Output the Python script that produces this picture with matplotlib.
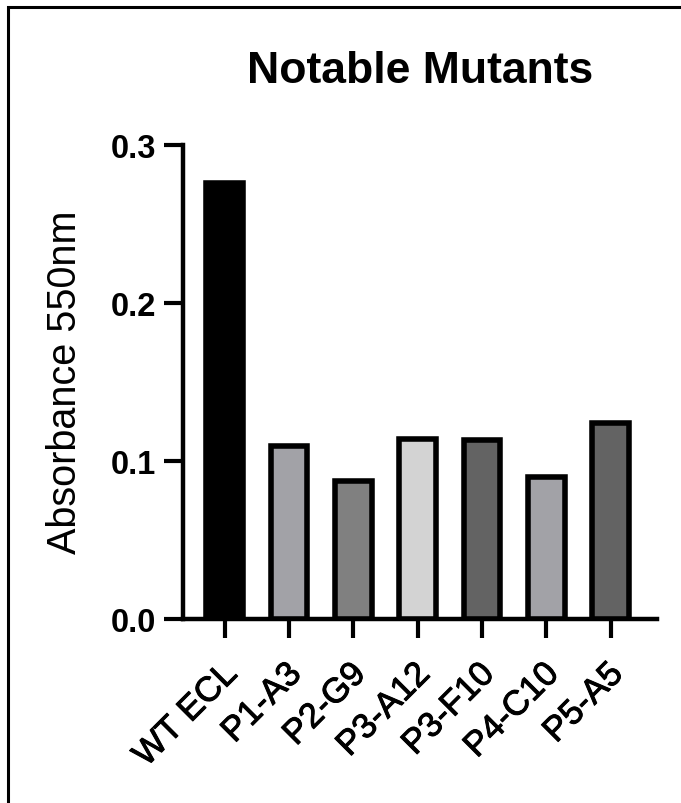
import matplotlib
matplotlib.use("Agg")
import matplotlib.pyplot as plt
import matplotlib.patheffects as pe
from matplotlib.patches import Rectangle
from matplotlib.transforms import ScaledTranslation

# data
mutants = ["WT ECL", "P1-A3", "P2-G9", "P3-A12", "P3-F10", "P4-C10", "P5-A5"]
absorbance = [0.276, 0.109, 0.087, 0.114, 0.113, 0.090, 0.124]
bar_colors = ["#000000", "#A2A2A7", "#808080", "#D3D3D3", "#636363", "#A2A2A7", "#636363"]
y_ticks = [0.0, 0.1, 0.2, 0.3]

plt.rcParams["font.family"] = ["Liberation Sans", "DejaVu Sans"]

W, H = 681, 804
fig = plt.figure(figsize=(W / 100, H / 100), dpi=100)
ax = fig.add_axes([182.7 / W, 1 - 619.7 / H, (657 - 182.7) / W, (619.7 - 145.7) / H])

x = range(len(mutants))
ax.bar(x, absorbance, width=0.57, color=bar_colors, edgecolor="black",
       linewidth=4, zorder=3)

ax.set_xlim(-0.653, 6.72)
ax.set_ylim(0, 0.3)
ax.set_yticks(y_ticks)
ax.set_yticklabels([f"{v:.1f}" for v in y_ticks], fontsize=23.5, fontweight="bold")
ax.set_xticks(list(x))
ax.set_xticklabels(mutants, fontsize=25, rotation=45,
                   ha="right", va="center", rotation_mode="anchor")

for side in ["top", "right"]:
    ax.spines[side].set_visible(False)
for side in ["left", "bottom"]:
    ax.spines[side].set_linewidth(3.2)
ax.tick_params(axis="both", length=14, width=3, pad=5)
ax.tick_params(axis="x", pad=22)

# nudge the rotated labels a little to the right and make them a bit heavier
shift = ScaledTranslation(7 / 100, 0, fig.dpi_scale_trans)
for lbl in ax.get_xticklabels():
    lbl.set_transform(lbl.get_transform() + shift)
    lbl.set_path_effects([pe.withStroke(linewidth=0.7, foreground="black")])

ax.set_ylabel("Absorbance 550nm", fontsize=28.5, va="center")
ax.yaxis.set_label_coords(-0.248, 0.5)

fig.text(420 / W, 1 - 83.3 / H, "Notable Mutants", fontsize=32, fontweight="bold",
         ha="center", va="baseline")

# outer frame (only left and top edges show in the reference)
fig.patches.append(Rectangle((8 / W, -0.05), 1.1, 1 - 8 / H + 0.05, transform=fig.transFigure,
                             fill=False, edgecolor="black", linewidth=2.2))

fig.savefig("out.png", dpi=100)
